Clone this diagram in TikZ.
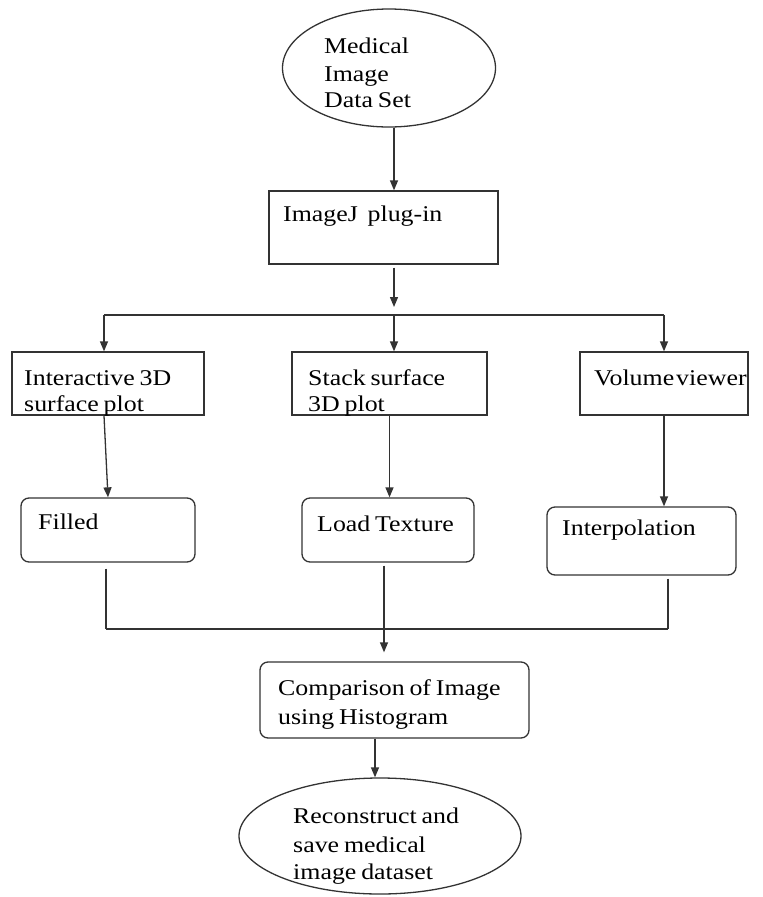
\documentclass[tikz,border=0pt]{standalone}
\usepackage{fontspec}
\setmainfont{Liberation Serif}[FakeStretch=1.15,WordSpace=0.75]
\usetikzlibrary{arrows.meta,shapes.geometric}
\begin{document}
\begin{tikzpicture}[x=1pt,y=-1pt,
  line/.style={draw=black!80,line width=1.3pt},
  arr/.style={line,-{Triangle[length=10pt,width=8pt]}},
  box/.style={line,rectangle,inner sep=0pt},
  rbox/.style={box,rounded corners=8pt},
  oval/.style={line,ellipse,inner sep=0pt},
  txt/.style={anchor=base west,inner sep=0pt,font=\fontsize{22.5}{27}\selectfont}]
\useasboundingbox (0,0) rectangle (763,897);
% shapes
\node[oval,minimum width=213pt,minimum height=118pt] (e1) at (389,68) {};
\node[box,minimum width=229pt,minimum height=73pt] (ij) at (383.5,227.5) {};
\node[box,minimum width=192pt,minimum height=63pt] (ia) at (108,383.5) {};
\node[box,minimum width=195pt,minimum height=63pt] (ss) at (389.5,383.5) {};
\node[box,minimum width=168pt,minimum height=63pt] (vv) at (664,383.5) {};
\node[rbox,minimum width=174pt,minimum height=64pt] (fi) at (108,530) {};
\node[rbox,minimum width=172pt,minimum height=64pt] (lt) at (388,530) {};
\node[rbox,minimum width=189pt,minimum height=68pt] (ip) at (641.5,541) {};
\node[rbox,minimum width=269pt,minimum height=76pt] (cm) at (394.5,700) {};
\node[oval,minimum width=282pt,minimum height=116pt] (e2) at (380,836) {};
% texts
\node[txt] (t1a) at (324,53) {Medical};
\node[txt] (t1b) at (324,81) {Image};
\node[txt] (t1c) at (324,107) {Data Set};
\node[txt] (t2) at (283,221) {ImageJ \ plug-in};
\node[txt] (t3a) at (24,385) {Interactive 3D};
\node[txt] (t3b) at (24,411) {surface plot};
\node[txt] (t4a) at (308,385) {Stack surface};
\node[txt] (t4b) at (308,411) {3D plot};
\node[txt] (t5) at (594,385) {Volume\hspace{2pt}viewer};
\node[txt] (t6) at (38,529) {Filled};
\node[txt] (t7) at (317,531) {Load Texture};
\node[txt] (t8) at (562,535) {Interpolation};
\node[txt] (t9a) at (278,695) {Comparison of Image};
\node[txt] (t9b) at (278,724) {using Histogram};
\node[txt] (t10a) at (293,823) {Reconstruct and};
\node[txt] (t10b) at (293,852) {save medical};
\node[txt] (t10c) at (293,879) {image dataset};
% connectors
\coordinate (s0) at (394,307);
\coordinate (sL) at (104,315);
\coordinate (sM) at (394,315);
\coordinate (sR) at (664,315);
\coordinate (jL) at (106,629);
\coordinate (jM) at (384,629);
\coordinate (jR) at (668,629);
\draw[arr] ([xshift=5pt]e1.south) -- ([xshift=10.5pt]ij.north);
\draw[arr,shorten <=3pt] ([xshift=10.5pt]ij.south) -- (s0);
\draw[line] (sL) -- (sR);
\draw[arr] (sL) -- (sL |- ia.north);
\draw[arr] (sM) -- (sM |- ss.north);
\draw[arr] (sR) -- (sR |- vv.north);
\draw[arr] ([xshift=-4pt]ia.south) -- (fi.north);
\draw[arr] (ss.south) -- ([xshift=1.5pt]lt.north);
\draw[arr] (vv.south) -- (vv.south |- ip.north);
\draw[line,shorten <=6pt] (fi.south -| jL) -- (jL);
\draw[line,shorten <=3pt] (lt.south -| jM) -- (jM);
\draw[line,shorten <=3pt] (ip.south -| jR) -- (jR);
\draw[line] (jL) -- (jR);
\draw[arr,shorten >=9pt] (jM) -- (jM |- cm.north);
\draw[arr] ([xshift=-19.5pt]cm.south) -- ([xshift=-5pt]e2.north);
\end{tikzpicture}
\end{document}
